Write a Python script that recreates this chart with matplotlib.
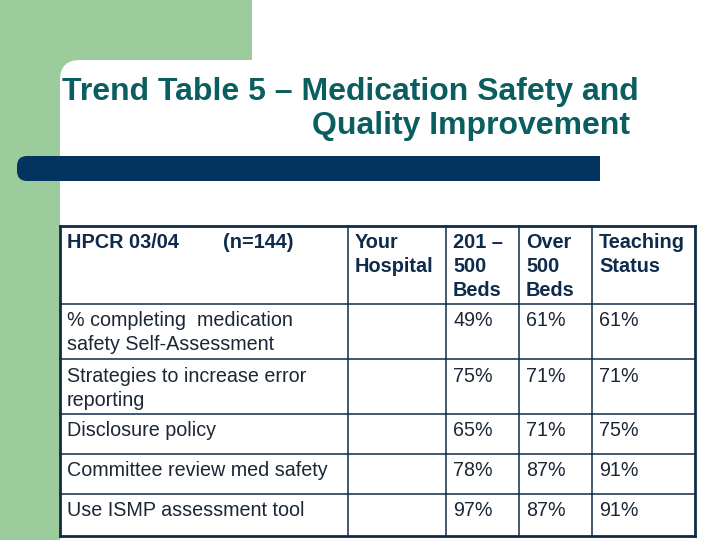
import matplotlib
matplotlib.use("Agg")
import matplotlib.pyplot as plt
from matplotlib.patches import Rectangle, FancyBboxPatch

# ---- data ----
title_lines = ["Trend Table 5 \u2013 Medication Safety and", "Quality Improvement"]
header_first = ["HPCR 03/04", "(n=144)"]
col_headers = [["Your", "Hospital"], ["201 \u2013", "500", "Beds"], ["Over", "500", "Beds"], ["Teaching", "Status"]]
row_labels = [["% completing  medication", "safety Self-Assessment"],
              ["Strategies to increase error", "reporting"],
              ["Disclosure policy"],
              ["Committee review med safety"],
              ["Use ISMP assessment tool"]]
your_hospital = ["", "", "", "", ""]
beds_201_500 = ["49%", "75%", "65%", "78%", "97%"]
beds_over_500 = ["61%", "71%", "71%", "87%", "87%"]
teaching = ["61%", "71%", "75%", "91%", "91%"]

# ---- layout (pixels) ----
W, H = 720, 540
green = "#9dcc9c"
navy_bar = "#03335f"
line_c = "#0f2b48"
head_c = "#0f2b4c"
body_c = "#1c2736"
title_c = "#0b5e5f"

col_x = [60, 348, 446, 519, 592, 695]
row_y = [226, 304, 359, 414, 454, 494, 536]
fs_body = 14.2
fs_head = 14.3
lh = 24

fig = plt.figure(figsize=(7.2, 5.4), dpi=100)
ax = fig.add_axes([0, 0, 1, 1])
ax.set_xlim(0, W)
ax.set_ylim(H, 0)
ax.axis("off")

# background decoration
ax.add_patch(Rectangle((0, 0), 252, 80, color=green, lw=0))
ax.add_patch(Rectangle((0, 0), 60, H, color=green, lw=0))
ax.add_patch(FancyBboxPatch((60, 60), 400, 300, boxstyle="round,pad=0,rounding_size=20",
                            fc="white", ec="none", lw=0))
ax.add_patch(FancyBboxPatch((17, 156), 60, 25, boxstyle="round,pad=0,rounding_size=10",
                            fc=navy_bar, ec="none", lw=0))
ax.add_patch(Rectangle((50, 156), 550, 25, color=navy_bar, lw=0))

# title
ax.text(62, 100, title_lines[0], fontsize=23, fontweight="bold", color=title_c,
        family="Liberation Sans", ha="left", va="baseline")
ax.text(312, 134, title_lines[1], fontsize=23, fontweight="bold", color=title_c,
        family="Liberation Sans", ha="left", va="baseline")

# table lines
for i, y in enumerate(row_y):
    lw = 2.0 if i in (0, len(row_y) - 1) else 1.1
    ax.plot([col_x[0], col_x[-1]], [y, y], color=line_c, lw=lw, solid_capstyle="projecting")
for i, x in enumerate(col_x):
    lw = 2.0 if i in (0, len(col_x) - 1) else 1.1
    ax.plot([x, x], [row_y[0], row_y[-1]], color=line_c, lw=lw, solid_capstyle="projecting")

pad = 7
base_off = 22.5
# header
ax.text(col_x[0] + pad, row_y[0] + base_off, header_first[0], fontsize=fs_head, fontweight="bold",
        color=head_c, family="Liberation Sans", va="baseline")
ax.text(223, row_y[0] + base_off, header_first[1], fontsize=fs_head, fontweight="bold",
        color=head_c, family="Liberation Sans", va="baseline")
for c, lines in enumerate(col_headers):
    for k, t in enumerate(lines):
        ax.text(col_x[c + 1] + pad, row_y[0] + base_off + k * lh, t, fontsize=fs_head,
                fontweight="bold", color=head_c, family="Liberation Sans", va="baseline")

# body
cols = [your_hospital, beds_201_500, beds_over_500, teaching]
for r, lines in enumerate(row_labels):
    yb = row_y[r + 1] + base_off
    for k, t in enumerate(lines):
        ax.text(col_x[0] + pad, yb + k * lh, t, fontsize=fs_body, color=body_c,
                family="Liberation Sans", va="baseline")
    for c, vals in enumerate(cols):
        if vals[r]:
            ax.text(col_x[c + 1] + pad, yb, vals[r], fontsize=fs_body, color=body_c,
                    family="Liberation Sans", va="baseline")

fig.savefig("out.png", dpi=100)
